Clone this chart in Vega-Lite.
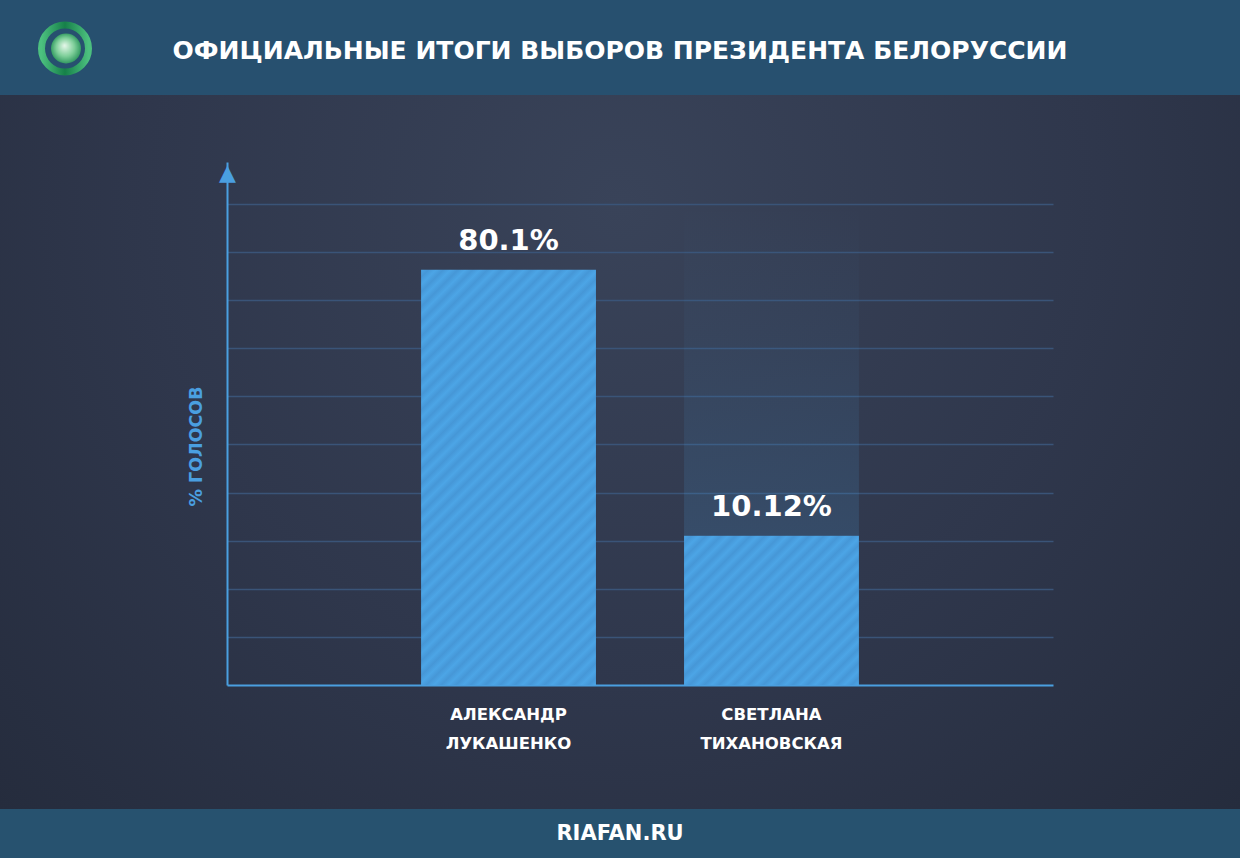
{
  "$schema": "https://vega.github.io/schema/vega-lite/v6.json",
  "background": "#283044",
  "padding": 0,
  "spacing": 0,
  "config": {"view": {"stroke": null}, "font": "DejaVu Sans"},
  "datasets": {
    "results": [
      {"candidate": "АЛЕКСАНДР ЛУКАШЕНКО", "share": 80.1, "label": "80.1%", "bar": 86.3},
      {"candidate": "СВЕТЛАНА ТИХАНОВСКАЯ", "share": 10.12, "label": "10.12%", "bar": 31.0}
    ]
  },
  "vconcat": [
    {
      "width": 1240,
      "height": 95,
      "view": {"fill": "#27506f", "stroke": null},
      "data": {"values": [{"title": "ОФИЦИАЛЬНЫЕ ИТОГИ ВЫБОРОВ ПРЕЗИДЕНТА БЕЛОРУССИИ", "logo": "logo"}]},
      "layer": [
        {
          "mark": {"type": "point", "shape": "circle", "size": 2209, "filled": false, "strokeWidth": 7, "opacity": 1, "strokeOpacity": 1, "xOffset": -555, "yOffset": 1,
            "stroke": {"gradient": "linear", "x1": 0, "y1": 0, "x2": 1, "y2": 0, "stops": [{"offset": 0, "color": "#4cc07f"}, {"offset": 0.5, "color": "#168049"}, {"offset": 1, "color": "#4cc07f"}]}},
          "encoding": {}
        },
        {
          "mark": {"type": "point", "shape": "circle", "size": 900, "filled": true, "opacity": 1, "fillOpacity": 1, "xOffset": -554, "yOffset": 1,
            "fill": {"gradient": "radial", "x1": 0.45, "y1": 0.4, "x2": 0.5, "y2": 0.5, "r1": 0, "r2": 0.55, "stops": [{"offset": 0, "color": "#e6f7ea"}, {"offset": 0.55, "color": "#7fcf9a"}, {"offset": 1, "color": "#238f55"}]}},
          "encoding": {}
        },
        {
          "mark": {"type": "text", "font": "DejaVu Sans", "fontWeight": 700, "fontSize": 25, "color": "#ffffff", "align": "center", "baseline": "middle", "dy": 3},
          "encoding": {"text": {"field": "title"}}
        }
      ]
    },
    {
      "width": 1240,
      "height": 714,
      "view": {"stroke": null, "fill": {"gradient": "radial", "x1": 0.5, "y1": 0.3, "x2": 0.5, "y2": 0.3, "r1": 0, "r2": 0.7, "stops": [{"offset": 0, "color": "#394359"}, {"offset": 0.55, "color": "#2f374c"}, {"offset": 1, "color": "#252c3d"}]}},
      "data": {"name": "results"},
      "encoding": {
        "x": {
          "field": "candidate", "type": "nominal", "sort": null,
          "scale": {"domain": ["АЛЕКСАНДР ЛУКАШЕНКО", "СВЕТЛАНА ТИХАНОВСКАЯ"], "range": [227, 1053], "paddingInner": 0.335, "paddingOuter": 0.738},
          "axis": {
            "orient": "bottom", "offset": -124, "title": null, "grid": false, "ticks": false,
            "domainColor": "#4a9fe0", "domainWidth": 2,
            "labelExpr": "split(datum.label, ' ')", "labelAngle": 0, "labelColor": "#ffffff",
            "labelFont": "DejaVu Sans", "labelFontWeight": 700, "labelFontSize": 16.5, "labelLineHeight": 29,
            "labelPadding": 21, "labelBaseline": "top"
          }
        },
        "y": {
          "field": "bar", "type": "quantitative",
          "scale": {"domain": [0, 108.7], "range": [590, 67], "nice": false, "zero": true},
          "axis": {
            "orient": "left", "offset": -227,
            "values": [0, 10, 20, 30, 40, 50, 60, 70, 80, 90, 100, 106.6],
            "domainColor": "#4a9fe0", "domainWidth": 2,
            "ticks": false, "tickSize": 0,
            "grid": true, "gridColor": "#3a5478", "gridWidth": 1.5,
            "gridOpacity": {"condition": {"test": "datum.value > 100 || datum.value == 0", "value": 0}, "value": 1},
            "labelExpr": "datum.value > 100 ? '▲' : ''",
            "labelAlign": "center", "labelBaseline": "middle", "labelPadding": 0,
            "labelFlush": false, "labelOverlap": false, "labelBound": false,
            "labelFont": "DejaVu Sans", "labelFontSize": 22, "labelColor": "#4a9fe0",
            "title": "% ГОЛОСОВ", "titleColor": "#4a9fe0", "titleFont": "DejaVu Sans",
            "titleFontWeight": 700, "titleFontSize": 17.5, "titlePadding": 13, "titleY": 351
          }
        }
      },
      "layer": [
        {
          "transform": [{"filter": "datum.share < 50"}],
          "mark": {"type": "bar", "fill": {"gradient": "linear", "x1": 0, "y1": 0, "x2": 0, "y2": 1, "stops": [{"offset": 0, "color": "rgba(76,164,228,0)"}, {"offset": 0.4, "color": "rgba(76,164,228,0.05)"}, {"offset": 1, "color": "rgba(76,164,228,0.17)"}]}},
          "encoding": {"y2": {"datum": 100}}
        },
        {
          "transform": [{"filter": "datum.share > 50"}],
          "mark": {"type": "bar", "fill": {"gradient": "linear", "x1": 0, "y1": 0, "x2": 0.509, "y2": 1.207, "stops": [
            {"offset": 0, "color": "#4ca5e6"}, {"offset": 0.0125, "color": "#4697d7"}, {"offset": 0.025, "color": "#4ca5e6"}, {"offset": 0.0375, "color": "#4697d7"},
            {"offset": 0.05, "color": "#4ca5e6"}, {"offset": 0.0625, "color": "#4697d7"}, {"offset": 0.075, "color": "#4ca5e6"}, {"offset": 0.0875, "color": "#4697d7"},
            {"offset": 0.1, "color": "#4ca5e6"}, {"offset": 0.1125, "color": "#4697d7"}, {"offset": 0.125, "color": "#4ca5e6"}, {"offset": 0.1375, "color": "#4697d7"},
            {"offset": 0.15, "color": "#4ca5e6"}, {"offset": 0.1625, "color": "#4697d7"}, {"offset": 0.175, "color": "#4ca5e6"}, {"offset": 0.1875, "color": "#4697d7"},
            {"offset": 0.2, "color": "#4ca5e6"}, {"offset": 0.2125, "color": "#4697d7"}, {"offset": 0.225, "color": "#4ca5e6"}, {"offset": 0.2375, "color": "#4697d7"},
            {"offset": 0.25, "color": "#4ca5e6"}, {"offset": 0.2625, "color": "#4697d7"}, {"offset": 0.275, "color": "#4ca5e6"}, {"offset": 0.2875, "color": "#4697d7"},
            {"offset": 0.3, "color": "#4ca5e6"}, {"offset": 0.3125, "color": "#4697d7"}, {"offset": 0.325, "color": "#4ca5e6"}, {"offset": 0.3375, "color": "#4697d7"},
            {"offset": 0.35, "color": "#4ca5e6"}, {"offset": 0.3625, "color": "#4697d7"}, {"offset": 0.375, "color": "#4ca5e6"}, {"offset": 0.3875, "color": "#4697d7"},
            {"offset": 0.4, "color": "#4ca5e6"}, {"offset": 0.4125, "color": "#4697d7"}, {"offset": 0.425, "color": "#4ca5e6"}, {"offset": 0.4375, "color": "#4697d7"},
            {"offset": 0.45, "color": "#4ca5e6"}, {"offset": 0.4625, "color": "#4697d7"}, {"offset": 0.475, "color": "#4ca5e6"}, {"offset": 0.4875, "color": "#4697d7"},
            {"offset": 0.5, "color": "#4ca5e6"}, {"offset": 0.5125, "color": "#4697d7"}, {"offset": 0.525, "color": "#4ca5e6"}, {"offset": 0.5375, "color": "#4697d7"},
            {"offset": 0.55, "color": "#4ca5e6"}, {"offset": 0.5625, "color": "#4697d7"}, {"offset": 0.575, "color": "#4ca5e6"}, {"offset": 0.5875, "color": "#4697d7"},
            {"offset": 0.6, "color": "#4ca5e6"}, {"offset": 0.6125, "color": "#4697d7"}, {"offset": 0.625, "color": "#4ca5e6"}, {"offset": 0.6375, "color": "#4697d7"},
            {"offset": 0.65, "color": "#4ca5e6"}, {"offset": 0.6625, "color": "#4697d7"}, {"offset": 0.675, "color": "#4ca5e6"}, {"offset": 0.6875, "color": "#4697d7"},
            {"offset": 0.7, "color": "#4ca5e6"}, {"offset": 0.7125, "color": "#4697d7"}, {"offset": 0.725, "color": "#4ca5e6"}, {"offset": 0.7375, "color": "#4697d7"},
            {"offset": 0.75, "color": "#4ca5e6"}, {"offset": 0.7625, "color": "#4697d7"}, {"offset": 0.775, "color": "#4ca5e6"}, {"offset": 0.7875, "color": "#4697d7"},
            {"offset": 0.8, "color": "#4ca5e6"}, {"offset": 0.8125, "color": "#4697d7"}, {"offset": 0.825, "color": "#4ca5e6"}, {"offset": 0.8375, "color": "#4697d7"},
            {"offset": 0.85, "color": "#4ca5e6"}, {"offset": 0.8625, "color": "#4697d7"}, {"offset": 0.875, "color": "#4ca5e6"}, {"offset": 0.8875, "color": "#4697d7"},
            {"offset": 0.9, "color": "#4ca5e6"}, {"offset": 0.9125, "color": "#4697d7"}, {"offset": 0.925, "color": "#4ca5e6"}, {"offset": 0.9375, "color": "#4697d7"},
            {"offset": 0.95, "color": "#4ca5e6"}, {"offset": 0.9625, "color": "#4697d7"}, {"offset": 0.975, "color": "#4ca5e6"}, {"offset": 0.9875, "color": "#4697d7"},
            {"offset": 1, "color": "#4ca5e6"}
          ]}},
          "encoding": {}
        },
        {
          "transform": [{"filter": "datum.share < 50"}],
          "mark": {"type": "bar", "fill": {"gradient": "linear", "x1": 0, "y1": 0, "x2": 1.0725, "y2": 0.915, "stops": [
            {"offset": 0, "color": "#4ca5e6"}, {"offset": 0.0227, "color": "#4697d7"}, {"offset": 0.0455, "color": "#4ca5e6"}, {"offset": 0.0682, "color": "#4697d7"},
            {"offset": 0.0909, "color": "#4ca5e6"}, {"offset": 0.1136, "color": "#4697d7"}, {"offset": 0.1364, "color": "#4ca5e6"}, {"offset": 0.1591, "color": "#4697d7"},
            {"offset": 0.1818, "color": "#4ca5e6"}, {"offset": 0.2045, "color": "#4697d7"}, {"offset": 0.2273, "color": "#4ca5e6"}, {"offset": 0.25, "color": "#4697d7"},
            {"offset": 0.2727, "color": "#4ca5e6"}, {"offset": 0.2955, "color": "#4697d7"}, {"offset": 0.3182, "color": "#4ca5e6"}, {"offset": 0.3409, "color": "#4697d7"},
            {"offset": 0.3636, "color": "#4ca5e6"}, {"offset": 0.3864, "color": "#4697d7"}, {"offset": 0.4091, "color": "#4ca5e6"}, {"offset": 0.4318, "color": "#4697d7"},
            {"offset": 0.4545, "color": "#4ca5e6"}, {"offset": 0.4773, "color": "#4697d7"}, {"offset": 0.5, "color": "#4ca5e6"}, {"offset": 0.5227, "color": "#4697d7"},
            {"offset": 0.5455, "color": "#4ca5e6"}, {"offset": 0.5682, "color": "#4697d7"}, {"offset": 0.5909, "color": "#4ca5e6"}, {"offset": 0.6136, "color": "#4697d7"},
            {"offset": 0.6364, "color": "#4ca5e6"}, {"offset": 0.6591, "color": "#4697d7"}, {"offset": 0.6818, "color": "#4ca5e6"}, {"offset": 0.7045, "color": "#4697d7"},
            {"offset": 0.7273, "color": "#4ca5e6"}, {"offset": 0.75, "color": "#4697d7"}, {"offset": 0.7727, "color": "#4ca5e6"}, {"offset": 0.7955, "color": "#4697d7"},
            {"offset": 0.8182, "color": "#4ca5e6"}, {"offset": 0.8409, "color": "#4697d7"}, {"offset": 0.8636, "color": "#4ca5e6"}, {"offset": 0.8864, "color": "#4697d7"},
            {"offset": 0.9091, "color": "#4ca5e6"}, {"offset": 0.9318, "color": "#4697d7"}, {"offset": 0.9545, "color": "#4ca5e6"}, {"offset": 0.9773, "color": "#4697d7"},
            {"offset": 1, "color": "#4ca5e6"}
          ]}},
          "encoding": {}
        },
        {
          "mark": {"type": "text", "font": "DejaVu Sans", "fontWeight": 700, "fontSize": 29, "color": "#ffffff", "baseline": "middle", "dy": -29},
          "encoding": {"text": {"field": "label"}}
        }
      ]
    },
    {
      "width": 1240,
      "height": 49,
      "view": {"fill": "#27526f", "stroke": null},
      "data": {"values": [{"site": "RIAFAN.RU"}]},
      "mark": {"type": "text", "font": "DejaVu Sans", "fontWeight": 700, "fontSize": 21, "color": "#ffffff", "align": "center", "baseline": "middle", "dy": 0},
      "encoding": {"text": {"field": "site"}}
    }
  ]
}
